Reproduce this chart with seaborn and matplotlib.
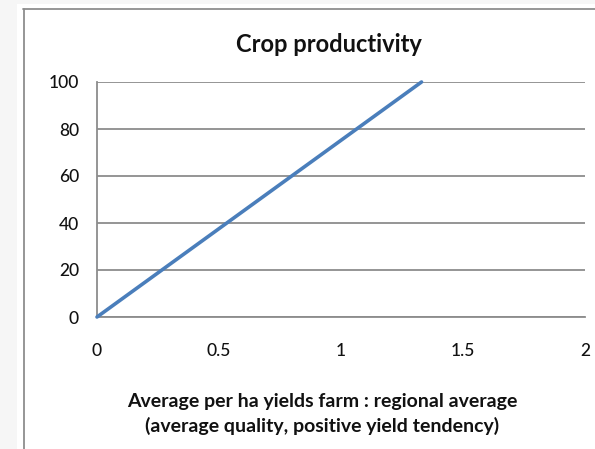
import matplotlib
matplotlib.use("Agg")
import matplotlib.pyplot as plt
from matplotlib.patches import Rectangle
from matplotlib.lines import Line2D
import seaborn as sns
import pandas as pd

# Yield ratio (farm : regional average) vs. productivity score
yield_ratio = [0, 1.33]
productivity = [0, 100]
x_ticks = [0, 0.5, 1, 1.5, 2]
x_tick_labels = ["0", "0.5", "1", "1.5", "2"]
y_ticks = [0, 20, 40, 60, 80, 100]

sns.set_theme(style="white")
plt.rcParams["font.family"] = ["Lato", "DejaVu Sans"]

W, H = 595, 449
fig = plt.figure(figsize=(W / 100, H / 100), dpi=100)
fig.patch.set_facecolor("white")

# light page margins and chart frame
fig.add_artist(Rectangle((0, 0), 17 / W, 1, transform=fig.transFigure,
                         facecolor="#f6f6f6", edgecolor="none", zorder=0))
fig.add_artist(Rectangle((0, 1 - 4 / H), 1, 4 / H, transform=fig.transFigure,
                         facecolor="#f6f6f6", edgecolor="none", zorder=0))
frame_c = "#8e8e8e"
fig.add_artist(Line2D([23.5 / W, 23.5 / W], [0, 1 - 9 / H], transform=fig.transFigure,
                      color=frame_c, lw=1.3))
fig.add_artist(Line2D([23 / W, 1], [1 - 9 / H, 1 - 9 / H], transform=fig.transFigure,
                      color=frame_c, lw=1.3))

left, right, top, bottom = 97, 585, 82, 317
ax = fig.add_axes([left / W, 1 - bottom / H, (right - left) / W, (bottom - top) / H])
ax.set_facecolor("none")

df = pd.DataFrame({"ratio": yield_ratio, "productivity": productivity})
sns.lineplot(data=df, x="ratio", y="productivity", ax=ax, color="#4a7ebb",
             linewidth=2.6, clip_on=False, zorder=5)

ax.set_xlim(0, 2)
ax.set_ylim(0, 100)
ax.set_xticks(x_ticks)
ax.set_xticklabels(x_tick_labels)
ax.set_yticks(y_ticks)

grid_c = "#8c8c8c"
ax.yaxis.grid(True, color=grid_c, linewidth=1.3)
ax.xaxis.grid(False)
for s in ["top", "right"]:
    ax.spines[s].set_visible(False)
for s in ["left", "bottom"]:
    ax.spines[s].set_visible(True)
    ax.spines[s].set_color(grid_c)
    ax.spines[s].set_linewidth(1.3)

ax.tick_params(axis="both", length=0, labelsize=12.5, colors="#111111")
ax.tick_params(axis="y", pad=13)
ax.tick_params(axis="x", pad=19)
for lbl in ax.get_xticklabels() + ax.get_yticklabels():
    lbl.set_fontweight("medium")
ax.set_xlabel("")
ax.set_ylabel("")

fig.text(329 / W, 1 - 45 / H, "Crop productivity", ha="center", va="center",
         fontsize=17, fontweight="bold", color="#111111")
fig.text(322 / W, 1 - 402 / H, "Average per ha yields farm : regional average",
         ha="center", va="center", fontsize=14, fontweight="bold", color="#111111")
fig.text(322 / W, 1 - 426 / H, "(average quality, positive yield tendency)",
         ha="center", va="center", fontsize=14, fontweight="bold", color="#111111")

fig.savefig("out.png", dpi=100)
